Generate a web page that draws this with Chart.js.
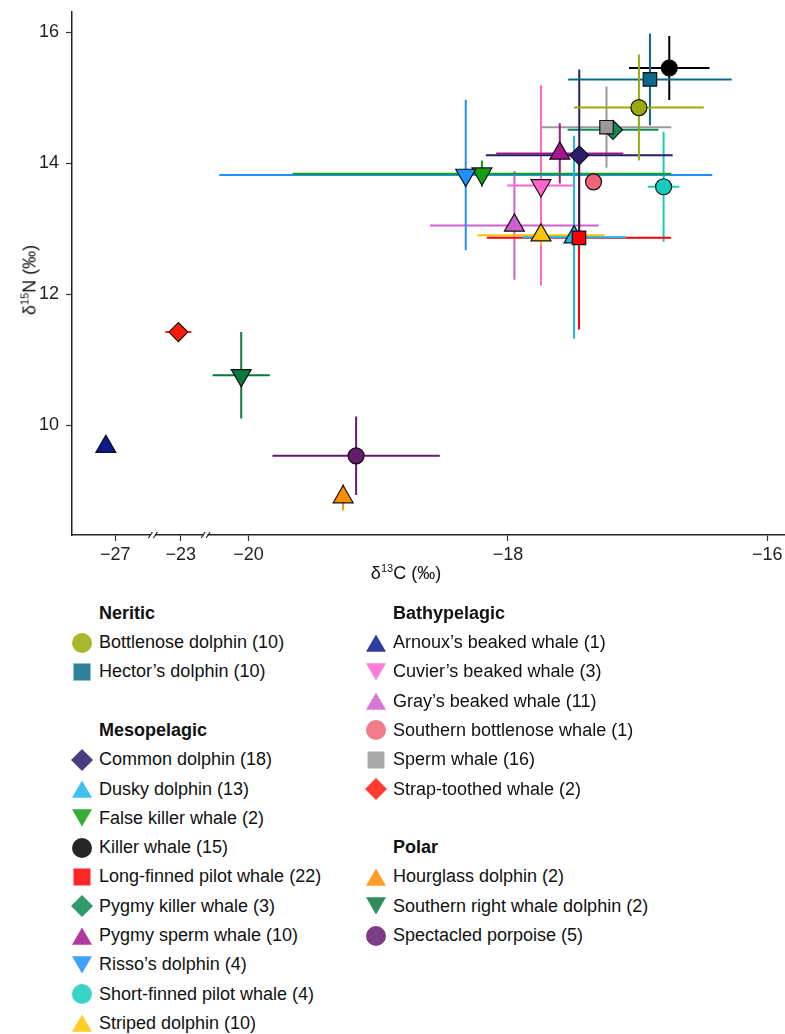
<!DOCTYPE html>
<html>
<head>
<meta charset="utf-8">
<script src="https://cdn.jsdelivr.net/npm/chart.js@4.4.0/dist/chart.umd.min.js"></script>
<style>
  body { margin: 0; background: #fff; font-family: "Liberation Sans", Arial, sans-serif; }
  #wrap { position: relative; width: 785px; height: 1034px; overflow: hidden; }
  #chartBox { position: absolute; left: 0; top: 0; width: 785px; height: 590px; }
  .axis-title { position: absolute; font-size: 18px; color: #111; white-space: nowrap; }
  .axis-title sup { font-size: 11px; line-height: 0; }
  .row { position: absolute; height: 29.3px; display: flex; align-items: center; font-size: 18px; color: #111; white-space: nowrap; }
  .row svg { margin-right: 5px; flex: none; }
  .row.head { font-weight: bold; }
</style>
</head>
<body>
<div id="wrap">
  <div id="chartBox"><canvas id="isotopos"></canvas></div>
  <div class="axis-title" style="left:406px; top:573px; transform:translate(-50%,-50%);">δ<sup>13</sup>C (‰)</div>
  <div class="axis-title" style="left:30px; top:280px; transform:translate(-50%,-50%) rotate(-90deg);">δ<sup>15</sup>N (‰)</div>
  <div id="legend"></div>
</div>
<script>
// Datos: especies, grupo, n, media y DE de d13C / d15N
const species = ['Bottlenose dolphin', "Hector’s dolphin",
  'Common dolphin', 'Dusky dolphin', 'False killer whale', 'Killer whale', 'Long-finned pilot whale',
  'Pygmy killer whale', 'Pygmy sperm whale', "Risso’s dolphin", 'Short-finned pilot whale', 'Striped dolphin',
  "Arnoux’s beaked whale", "Cuvier’s beaked whale", "Gray’s beaked whale", 'Southern bottlenose whale',
  'Sperm whale', 'Strap-toothed whale',
  'Hourglass dolphin', 'Southern right whale dolphin', 'Spectacled porpoise'];
const groupOf = ['Neritic', 'Neritic',
  'Mesopelagic', 'Mesopelagic', 'Mesopelagic', 'Mesopelagic', 'Mesopelagic',
  'Mesopelagic', 'Mesopelagic', 'Mesopelagic', 'Mesopelagic', 'Mesopelagic',
  'Bathypelagic', 'Bathypelagic', 'Bathypelagic', 'Bathypelagic', 'Bathypelagic', 'Bathypelagic',
  'Polar', 'Polar', 'Polar'];
const sampleSize = [10, 10, 18, 13, 2, 15, 22, 3, 10, 4, 4, 10, 1, 3, 11, 1, 16, 2, 2, 2, 5];
const carbonMean = [-16.99, -16.905, -17.45, -17.49, -18.20, -16.756, -17.452, -17.19, -17.60, -18.325, -16.80, -17.745,
  -27.57, -17.745, -17.95, -17.34, -17.24, -23.15, -19.27, -20.32, -19.17];
const carbonSD = [0.50, 0.63, 0.72, 0.40, 1.46, 0.31, 0.71, 0.35, 0.49, 1.90, 0.12, 0.49,
  0, 0.26, 0.65, 0, 0.50, 0.79, 0.03, 1.27, 0.645];
const nitrogenMean = [14.85, 15.28, 14.12, 12.87, 13.84, 15.455, 12.86, 14.51, 14.15, 13.82, 13.64, 12.90,
  9.67, 13.66, 13.05, 13.715, 14.55, 11.42, 8.90, 10.76, 9.53];
const nitrogenSD = [0.81, 0.70, 1.31, 1.55, 0.20, 0.49, 1.40, 0.05, 0.46, 1.15, 0.84, 0.15,
  0, 1.53, 0.83, 0, 0.62, 0.05, 0.20, 0.66, 0.60];
const xTicks = [-27, -23, -20, -18, -16];
const yTicks = [10, 12, 14, 16];

// Estilo
const colors = ['#9aaa0a', '#0b6a8a', '#2d1b6b', '#1fb4ef', '#12a012', '#000000', '#ff0000',
  '#0e8a55', '#a5168f', '#1e90ff', '#18cbbd', '#ffc400',
  '#0a1a8c', '#ff66d0', '#d060d0', '#f06478', '#9a9a9a', '#ff1a0a',
  '#ff8c00', '#0b7a3c', '#661a70'];
const shapes = ['circle', 'square', 'diamond', 'up', 'down', 'circle', 'square', 'diamond', 'up', 'down', 'circle', 'up',
  'up', 'down', 'up', 'circle', 'square', 'diamond', 'up', 'down', 'circle'];

// Eje x con cortes (-27 // -23 // -20 ...)
const BREAK_AT = [-27, -23, -20];
const BREAK_POS = [-21.027, -20.521, -20];
const breakMarks = [-24.7, -21.9];
function axisSlope(v) {
  if (v >= BREAK_AT[2]) return 1;
  if (v >= BREAK_AT[1]) return (BREAK_POS[2] - BREAK_POS[1]) / (BREAK_AT[2] - BREAK_AT[1]);
  return (BREAK_POS[1] - BREAK_POS[0]) / (BREAK_AT[1] - BREAK_AT[0]);
}
function toAxis(v) {
  if (v >= BREAK_AT[2]) return v;
  if (v >= BREAK_AT[1]) return BREAK_POS[2] + (v - BREAK_AT[2]) * axisSlope(v);
  return BREAK_POS[1] + (v - BREAK_AT[1]) * axisSlope(v);
}
const fmt = v => (v < 0 ? '\u2212' + Math.abs(v) : String(v));

const pointStyleOf = s => ({ circle: 'circle', square: 'rect', diamond: 'rectRot', up: 'triangle', down: 'triangle' }[s]);
const radiusOf = s => ({ circle: 8, square: 9.5, diamond: 9.5, up: 11.5, down: 11.5 }[s]);

// Barras de error (debajo de los puntos)
const errorBars = {
  id: 'errorBars',
  beforeDatasetsDraw(chart) {
    const { ctx, scales: { x, y } } = chart;
    ctx.save();
    ctx.lineWidth = 2;
    for (let i = species.length - 1; i >= 0; i--) {
      const cx = toAxis(carbonMean[i]);
      const hx = carbonSD[i] * axisSlope(carbonMean[i]);
      const cy = nitrogenMean[i];
      const hy = nitrogenSD[i];
      ctx.strokeStyle = colors[i];
      ctx.beginPath();
      if (hx > 0) {
        ctx.moveTo(x.getPixelForValue(cx - hx), y.getPixelForValue(cy));
        ctx.lineTo(x.getPixelForValue(cx + hx), y.getPixelForValue(cy));
      }
      if (hy > 0) {
        ctx.moveTo(x.getPixelForValue(cx), y.getPixelForValue(cy - hy));
        ctx.lineTo(x.getPixelForValue(cx), y.getPixelForValue(cy + hy));
      }
      ctx.stroke();
    }
    ctx.restore();
  }
};

// Marcas "//" del corte del eje
const axisBreaks = {
  id: 'axisBreaks',
  afterDraw(chart) {
    const { ctx, chartArea, scales: { x } } = chart;
    const yb = chartArea.bottom;
    ctx.save();
    breakMarks.forEach(b => {
      const px = x.getPixelForValue(toAxis(b));
      ctx.fillStyle = '#fff';
      ctx.fillRect(px - 2, yb - 2, 4, 4);
      ctx.strokeStyle = '#222';
      ctx.lineWidth = 1.2;
      ctx.beginPath();
      [-2.5, 2.5].forEach(d => {
        ctx.moveTo(px + d - 2, yb + 3);
        ctx.lineTo(px + d + 2, yb - 3);
      });
      ctx.stroke();
    });
    ctx.restore();
  }
};

const ctx = document.getElementById('isotopos').getContext('2d');
new Chart(ctx, {
  type: 'scatter',
  data: {
    datasets: [{
      data: species.map((n, i) => ({ x: toAxis(carbonMean[i]), y: nitrogenMean[i] })),
      pointStyle: shapes.map(pointStyleOf),
      pointRotation: shapes.map(s => (s === 'down' ? 180 : 0)),
      pointRadius: shapes.map(radiusOf),
      pointBackgroundColor: colors,
      pointBorderColor: '#111',
      pointBorderWidth: 1.2
    }]
  },
  options: {
    responsive: true,
    maintainAspectRatio: false,
    animation: false,
    events: [],
    layout: { autoPadding: false, padding: { top: 12, left: 0, right: 0, bottom: 0 } },
    plugins: { legend: { display: false }, tooltip: { enabled: false } },
    scales: {
      x: {
        type: 'linear',
        min: -21.36,
        max: -15.864,
        afterFit: s => { s.height = 55; s.paddingLeft = 0; s.paddingRight = 0; },
        afterBuildTicks: axis => { axis.ticks = xTicks.map(v => ({ value: toAxis(v) })); },
        ticks: {
          autoSkip: false, maxRotation: 0, padding: 3, color: '#222',
          font: { family: '"Liberation Sans", Arial, sans-serif', size: 18 },
          callback: (val, idx) => fmt(xTicks[idx])
        },
        border: { color: '#222', width: 1.5 },
        grid: { drawOnChartArea: false, drawTicks: true, tickLength: 6, tickColor: '#333', tickWidth: 1.2 }
      },
      y: {
        min: 8.32,
        max: 16.31,
        afterFit: s => { s.width = 72; s.paddingTop = 0; s.paddingBottom = 0; },
        afterBuildTicks: axis => { axis.ticks = yTicks.map(v => ({ value: v })); },
        ticks: {
          padding: 7, color: '#222',
          font: { family: '"Liberation Sans", Arial, sans-serif', size: 18 },
          callback: v => fmt(v)
        },
        border: { color: '#222', width: 1.5 },
        grid: { drawOnChartArea: false, drawTicks: true, tickLength: 6, tickColor: '#333', tickWidth: 1.2 }
      }
    }
  },
  plugins: [errorBars, axisBreaks]
});

// Leyenda en HTML, por grupos en dos columnas
function marker(shape, color) {
  const body = {
    circle: '<circle cx="12" cy="12" r="10"/>',
    square: '<rect x="3.5" y="3.5" width="17" height="17"/>',
    diamond: '<polygon points="12,1 23,12 12,23 1,12"/>',
    up: '<polygon points="12,3.5 22,20.8 2,20.8"/>',
    down: '<polygon points="2,3.2 22,3.2 12,20.5"/>'
  }[shape];
  return `<svg width="24" height="24" viewBox="0 0 24 24"><g fill="${color}" fill-opacity="0.85">${body}</g></svg>`;
}
const legend = document.getElementById('legend');
const columns = [{ left: 70, groups: ['Neritic', 'Mesopelagic'] }, { left: 364, groups: ['Bathypelagic', 'Polar'] }];
columns.forEach(col => {
  let row = 0;
  col.groups.forEach((g, gi) => {
    if (gi > 0) row++;
    const top = 598.6 + row * 29.3;
    legend.innerHTML += `<div class="row head" style="left:${col.left + 29}px; top:${top}px">${g}</div>`;
    row++;
    species.forEach((n, i) => {
      if (groupOf[i] !== g) return;
      const t = 598.6 + row * 29.3;
      legend.innerHTML += `<div class="row" style="left:${col.left}px; top:${t}px">${marker(shapes[i], colors[i])}${n} (${sampleSize[i]})</div>`;
      row++;
    });
  });
});
</script>
</body>
</html>
